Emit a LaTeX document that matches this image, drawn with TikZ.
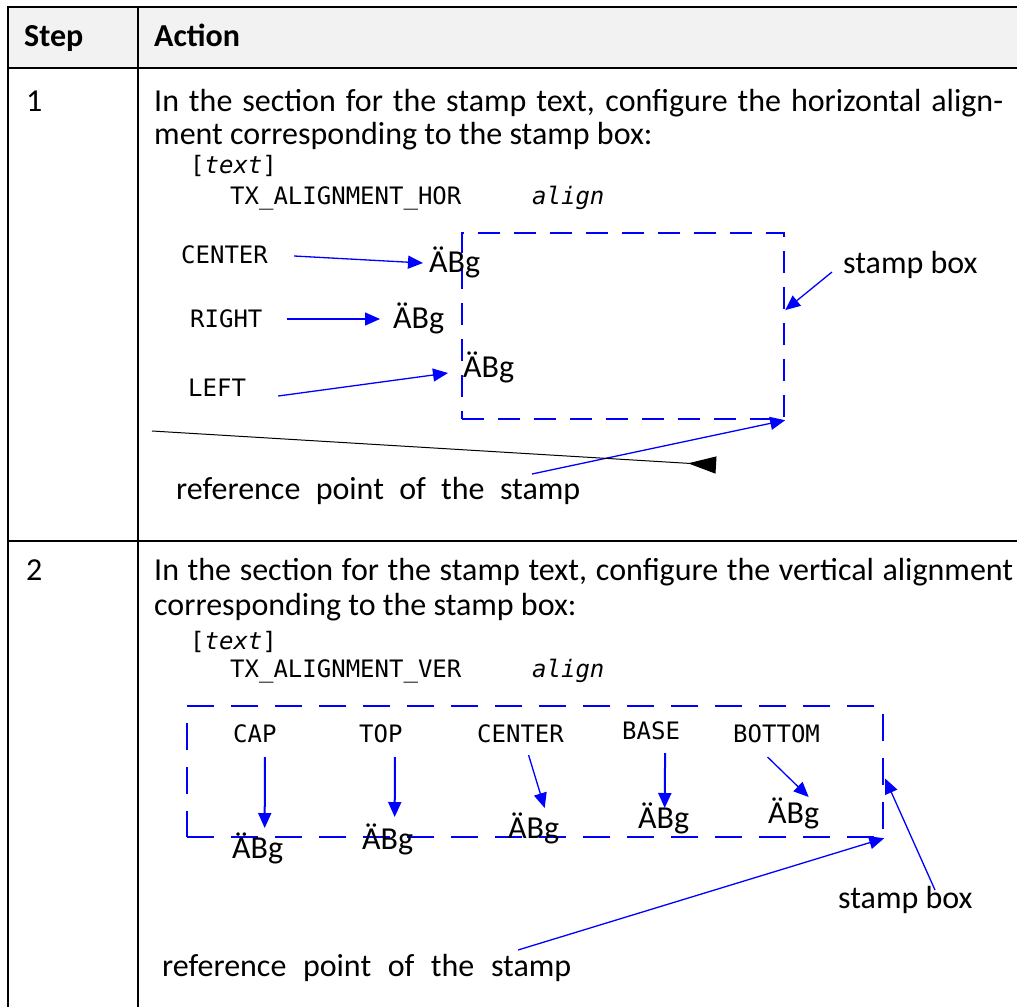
\documentclass[tikz,border=0pt]{standalone}
\usepackage{fontspec}
\setmainfont{Carlito}
\setmonofont{DejaVu Sans Mono}
\usetikzlibrary{arrows.meta}

\begin{document}
\begin{tikzpicture}[
    x=1pt, y=-1pt,
    grid/.style={line width=1.6pt, black},
    txt/.style={anchor=base west, inner sep=0pt, font=\fontsize{32}{34}\selectfont},
    head/.style={txt, font=\fontsize{32}{34}\selectfont\bfseries},
    code/.style={anchor=base west, inner sep=0pt, font=\ttfamily\fontsize{24}{26}\selectfont},
    stampbox/.style={draw=blue, line width=2.2pt, anchor=north west, inner sep=0pt},
    arrow/.style={-{Triangle[length=15pt,width=13pt]}, blue, line width=1.3pt},
    varrow/.style={arrow, line width=2pt}
]
\useasboundingbox (0,0) rectangle (1017,1007);

% Table
\fill[gray!10] (8,7) rectangle (1017,68);
\draw[grid] (1017,7) -- (8,7) -- (8,1007);
\draw[grid] (138,7) -- (138,1007);
\draw[grid] (8,68) -- (1017,68);
\draw[grid] (8,541) -- (1017,541);

% Header
\node[head] (steph) at (24,46) {Step};
\node[head] (acth) at (154,46) {Action};

% Step 1
\node[txt] (n1) at (26,111) {1};
\node[txt] (t1a) at (154,111) {\makebox[849pt][s]{In the section for the stamp text, configure the horizontal align-}};
\node[txt] (t1b) at (154,144) {ment corresponding to the stamp box:};
\node[code] (c1a) at (190,173) {[\textit{text}]};
\node[code] (c1b) at (230,204) {TX\_ALIGNMENT\_HOR};
\node[code] (c1c) at (532,204) {\textit{align}};

\node[stampbox, dash pattern=on 22pt off 14pt, minimum width=322pt, minimum height=186pt] (box1) at (461,232) {};

\node[code] (l1c) at (181,263) {CENTER};
\node[code] (l1r) at (190,327) {RIGHT};
\node[code] (l1l) at (188,396) {LEFT};
\node[txt] (s1c) at (429,272) {ÄBg};
\node[txt] (s1r) at (393,328) {ÄBg};
\node[txt] (s1l) at (463,377) {ÄBg};
\node[txt] (lb1) at (843,273) {stamp box};
\node[txt] (rp1) at (176,499) {\makebox[404pt][s]{reference point of the stamp}};
\coordinate (bl1) at (152,431);
\coordinate (bl2) at (716,465);

\draw[arrow] ([shift={(26pt,7pt)}]l1c.base east) -- ([shift={(-6pt,9pt)}]s1c.base west);
\draw[arrow] ([shift={(24pt,8pt)}]l1r.base east) -- ([shift={(-13pt,9pt)}]s1r.base west);
\draw[arrow] ([shift={(32pt,0pt)}]l1l.base east) -- ([shift={(-15pt,4pt)}]s1l.base west);
\draw[arrow] ([shift={(-11pt,1pt)}]lb1.base west) -- ([yshift=16pt]box1.east);
\draw[arrow] ([shift={(356pt,25pt)}]rp1.base west) -- (box1.south east);
\draw[line width=1pt, -{Triangle[reversed, length=28pt, width=17pt]}] (bl1) -- (bl2);

% Step 2
\node[txt] (n2) at (26,580) {2};
\node[txt] (t2a) at (154,580) {\makebox[859pt][s]{In the section for the stamp text, configure the vertical alignment}};
\node[txt] (t2b) at (154,615) {corresponding to the stamp box:};
\node[code] (c2a) at (190,649) {[\textit{text}]};
\node[code] (c2b) at (230,677) {TX\_ALIGNMENT\_VER};
\node[code] (c2c) at (532,677) {\textit{align}};

\node[stampbox, dash pattern=on 27pt off 17pt, minimum width=696pt, minimum height=131pt] (box2) at (186,705) {};

\node[code] (l2cap) at (233,742) {CAP};
\node[code] (l2top) at (359,742) {TOP};
\node[code] (l2cen) at (477,742) {CENTER};
\node[code] (l2bas) at (622,739) {BASE};
\node[code] (l2bot) at (733,742) {BOTTOM};
\node[txt] (s2cap) at (232,858) {ÄBg};
\node[txt] (s2top) at (362,849) {ÄBg};
\node[txt] (s2cen) at (508,838) {ÄBg};
\node[txt] (s2bas) at (638,828) {ÄBg};
\node[txt] (s2bot) at (768,823) {ÄBg};
\node[txt] (lb2) at (838,908) {stamp box};
\node[txt] (rp2) at (162,976) {\makebox[409pt][s]{reference point of the stamp}};

\draw[varrow] ([shift={(10pt,-15pt)}]l2cap.base) -- ([shift={(7pt,30pt)}]s2cap.base);
\draw[varrow] ([shift={(14pt,-15pt)}]l2top.base) -- ([shift={(7pt,32pt)}]s2top.base);
\draw[arrow] ([shift={(8pt,-13pt)}]l2cen.base) -- ([shift={(11pt,30pt)}]s2cen.base);
\draw[varrow] ([shift={(14pt,-14pt)}]l2bas.base) -- ([shift={(1pt,20pt)}]s2bas.base);
\draw[arrow] ([shift={(-9pt,-15pt)}]l2bot.base) -- ([shift={(15pt,26pt)}]s2bot.base);
\draw[arrow] ([shift={(97pt,18pt)}]lb2.base west) -- ([shift={(1pt,-7pt)}]box2.east);
\draw[arrow] ([shift={(356pt,26pt)}]rp2.base west) -- (box2.south east);

\end{tikzpicture}
\end{document}
